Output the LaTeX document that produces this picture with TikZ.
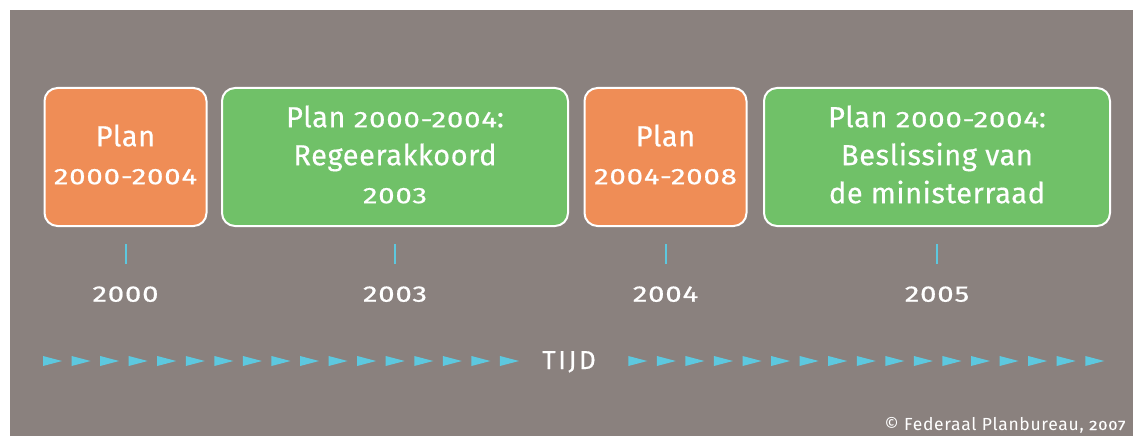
\documentclass[tikz,border=0pt]{standalone}
\usepackage{fontspec}
\setmainfont{Fira Sans}
\definecolor{panel}{HTML}{8A817E}
\definecolor{planorange}{HTML}{EF8D56}
\definecolor{decgreen}{HTML}{70C168}
\definecolor{timecyan}{HTML}{5DC8DF}
% wide, low figures (x-height figures)
\newcommand\yr[1]{\scalebox{1.3}[1]{\fontsize{22.5}{22.5}\selectfont\addfontfeature{LetterSpace=3,FakeBold=0.6}#1}}
\newcommand\yrsmall[1]{\scalebox{1.25}[1]{\fontsize{13.5}{13.5}\selectfont\addfontfeature{LetterSpace=4,FakeBold=0.4}#1}}
\begin{document}
\begin{tikzpicture}[x=1pt,y=-1pt,
  every node/.style={text=white},
  box/.style={draw=white, line width=2pt, rounded corners=13pt,
    minimum height=138pt, inner sep=0pt},
  plan/.style={box, fill=planorange, minimum width=162pt},
  decision/.style={box, fill=decgreen, minimum width=346pt},
  boxtext/.style={align=center, inner sep=0pt, yshift=2.5pt,
    font=\fontsize{29}{38}\selectfont\addfontfeature{LetterSpace=2,FakeBold=0.4}},
  yeartick/.style={draw=timecyan, line width=2pt},
  yearlbl/.style={anchor=base, font=\fontsize{29}{29}\selectfont},
  timehead/.style={fill=timecyan}]
\useasboundingbox (0,0) rectangle (1133,436);
\fill[panel] (10,10) rectangle (1133,436);

% plan boxes and decisions
\node[plan]     (p1) at (125.5,157) {};
\node[decision] (d1) at (395,157)   {};
\node[plan]     (p2) at (665.5,157) {};
\node[decision] (d2) at (937,157)   {};
\node[boxtext] (p1t) at (p1) {Plan\\\yr{2000-2004}};
\node[boxtext] (d1t) at (d1) {Plan \yr{2000-2004}:\\Regeerakkoord\\\yr{2003}};
\node[boxtext] (p2t) at (p2) {Plan\\\yr{2004-2008}};
\node[boxtext] (d2t) at (d2) {Plan \yr{2000-2004}:\\Beslissing van\\de ministerraad};

% ticks and years below each box
\foreach \b/\t in {p1/2000, d1/2003, p2/2004, d2/2005} {
  \draw[yeartick] ([yshift=-17pt]\b.south) -- ++(0,20);
  \node[yearlbl] (y\t) at ([yshift=-74.7pt]\b.south) {\yr{\t}};
}

% time axis
\foreach \i in {0,...,16} {
  \fill[timehead] (43+28.56*\i,356) -- ++(19,5) -- ++(-19,5) -- cycle;
  \fill[timehead] (628.3+28.56*\i,356) -- ++(19,5) -- ++(-19,5) -- cycle;
}
\node[anchor=base, font=\fontsize{26}{26}\selectfont\addfontfeature{LetterSpace=10,FakeBold=0.3}] (tijd) at (569,369) {TIJD};

\node[anchor=base east, font=\fontsize{17.5}{17.5}\selectfont\addfontfeature{LetterSpace=4}] (credit) at (1129,430) {© Federaal Planbureau, \yrsmall{2007}};
\end{tikzpicture}
\end{document}
